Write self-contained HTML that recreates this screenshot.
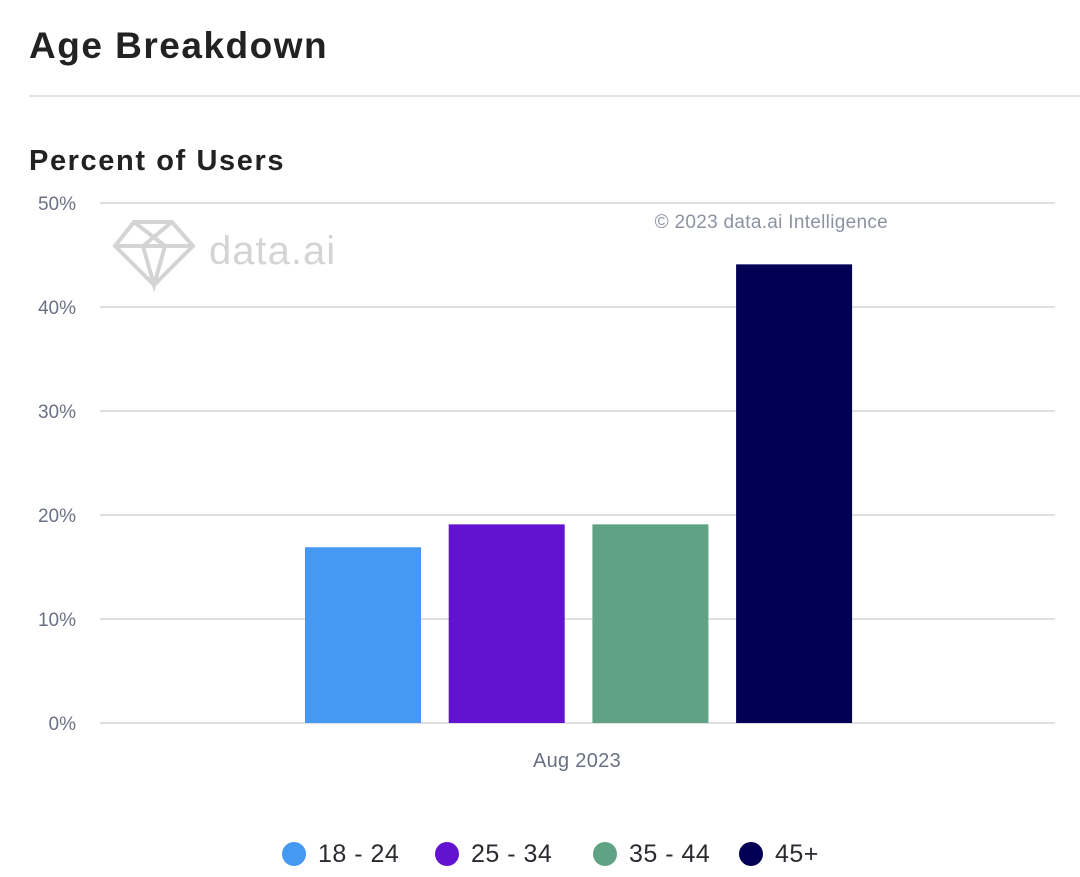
<!DOCTYPE html>
<html><head><meta charset="utf-8"><style>
body{margin:0;width:1080px;height:872px;background:#fff;font-family:"Liberation Sans",sans-serif;overflow:hidden}
</style></head><body>
<svg width="1080" height="872">
<text x="29" y="58" font-size="37" font-weight="bold" fill="#222" letter-spacing="1.5">Age Breakdown</text>
<line x1="29" y1="96" x2="1080" y2="96" stroke="#e3e3e6" stroke-width="2"/>
<text x="29" y="170" font-size="29" font-weight="bold" fill="#222" letter-spacing="1.6">Percent of Users</text>
<g fill="none" stroke="#d4d4d4" stroke-width="4">
<path d="M134 222 L172 222 L193 246 L154 285 L115 246 Z M115 246 L193 246 M134 222 L165 246 L154 285 L143 246 L172 222"/>
</g>
<text x="209" y="264" font-size="40" fill="#d4d4d4" letter-spacing="1">data.ai</text>
<text x="888" y="228" font-size="19" fill="#8d92a3" text-anchor="end" letter-spacing="0.3">© 2023 data.ai Intelligence</text>
<g id="grid"></g><g id="bars"></g>
<text x="577" y="767" font-size="20" fill="#6b7085" text-anchor="middle" letter-spacing="0.3">Aug 2023</text>
<g id="legend"></g>
</svg>
<script>
const categories=["18 - 24","25 - 34","35 - 44","45+"];
const values=[16.9,19.1,19.1,44.1];
const colors=["#4599f3","#6312d1","#5fa384","#020055"];
const ticks=[0,10,20,30,40,50];
const ns="http://www.w3.org/2000/svg";
const y=v=>723-v*10.4;
function mk(t,a,p){const e=document.createElementNS(ns,t);for(const k in a)e.setAttribute(k,a[k]);p.appendChild(e);return e;}
const g=document.getElementById('grid');
ticks.forEach(t=>{
 const l=mk('line',{x1:100,x2:1055,y1:y(t),y2:y(t),stroke:'#d5d6dc','stroke-width':1.5},g);
 
 
 const tx=mk('text',{x:76,y:y(t)+7,'font-size':19,fill:'#6b7085','text-anchor':'end'},g);
 tx.textContent=t+'%';
 
 
});
const b=document.getElementById('bars');
values.forEach((v,i)=>{
 const x=305+i*143.7;
 const r=mk('rect',{x:x,y:y(v),width:116,height:y(0)-y(v),fill:colors[i]},b);
 
 
});
const lg=document.getElementById('legend');
const lx=[294,447,605,751];
categories.forEach((c,i)=>{
 const ci=mk('circle',{cx:lx[i],cy:854,r:12,fill:colors[i]},lg);
 
 
 const t=mk('text',{x:lx[i]+24,y:862,'font-size':25,fill:'#2a2a30','letter-spacing':0.5},lg);
 t.textContent=c;
 
 
});
</script>
</body></html>
